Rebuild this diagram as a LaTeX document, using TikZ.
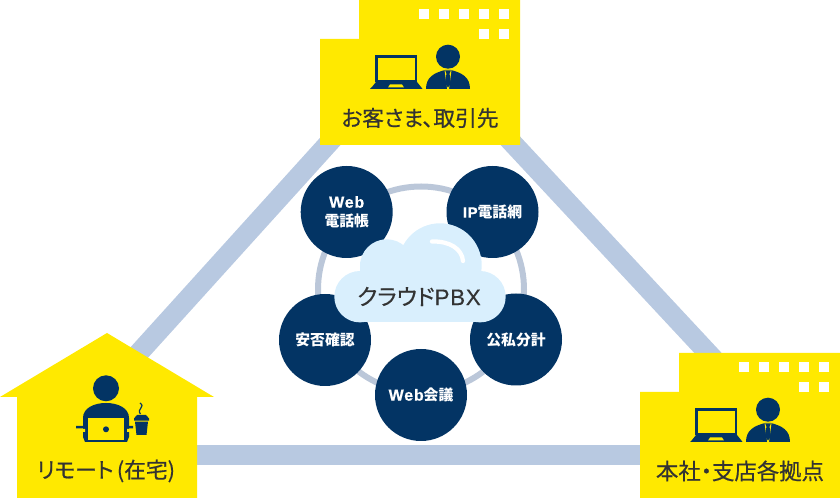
\documentclass[tikz,border=0pt]{standalone}
\usepackage{fontspec}
\setmainfont{Noto Sans CJK JP}[RawFeature=+palt]
\newfontfamily\medjp{Noto Sans CJK JP}[RawFeature=+palt,FakeBold=0.5]
\newfontfamily\latb{Liberation Sans}[FakeBold=0.5,LetterSpace=5]
\newfontfamily\latm{Liberation Sans}[FakeBold=0.3,LetterSpace=3]
\definecolor{ybg}{HTML}{FFE900}
\definecolor{navy}{HTML}{033464}
\definecolor{band}{HTML}{B8C9E1}
\definecolor{ringc}{HTML}{BBC7D9}
\definecolor{cloudc}{HTML}{D9EFFD}
\definecolor{txt}{HTML}{333333}
\tikzset{
 yshape/.style={fill=ybg,draw=none},
 link/.style={band,line width=15pt},
 svc/.style={circle,fill=navy,draw=none,minimum size=69pt,inner sep=0pt,text=white,align=center,font=\fontsize{11.1pt}{14.6pt}\selectfont\bfseries},
 place/.style={text=txt,inner sep=0pt,font=\fontsize{16.3pt}{18pt}\selectfont\medjp},
 win/.style={fill=white,draw=none},
 officeicon/.pic={
  % laptop
  \draw[navy,line width=2.2pt,fill=ybg] (56.5,56.5) rectangle (96,81);
  \fill[navy] (50,89) -- (52,87) -- (56,82) -- (97,82) -- (101,87) -- (102.5,89) -- cycle;
  \fill[ybg] (68,87.5) -- (70,84.5) -- (82,84.5) -- (84,87.5) -- cycle;
  % person
  \fill[navy] (128,56.7) circle[radius=12];
  \fill[navy] (106,89) .. controls (106,77) and (114,73) .. (125,70) -- (131,70) .. controls (142,73) and (150,77) .. (150,89) -- cycle;
  \fill[ybg] (124.5,70) -- (131.5,70) -- (129,89) -- (127.2,89) -- cycle;
  \fill[navy] (125.2,70.5) -- (130.8,70.5) -- (129.6,73.5) -- (130.6,84) -- (128,87.5) -- (125.4,84) -- (126.4,73.5) -- cycle;
  % windows
  \foreach \wx in {99,119,139,159,179} {\fill[win] (\wx,9) rectangle ++(10,10);}
  \foreach \wx in {159,179} {\fill[win] (\wx,29) rectangle ++(10,10);}
 },
}
\begin{document}
\begin{tikzpicture}[x=0.75pt,y=-0.75pt]
\useasboundingbox (0,0) rectangle (840,498);
\coordinate (ctop) at (419.3,43);
\coordinate (cleft) at (46.5,455);
\coordinate (cright) at (803,455);
% triangle links
\draw[link] (ctop) -- (cleft);
\draw[link] (ctop) -- (cright);
\draw[link] (cleft) -- (cright);
% ring
\node[circle,draw=ringc,line width=4.5pt,minimum size=154.5pt,inner sep=0pt] (ring) at (421,289.5) {};
% services
\node[svc] (web) at (346.7,212) {\raisebox{-1pt}{\fontsize{12pt}{14pt}\latb Web}\\[-0.5pt]\raisebox{-1pt}{電話帳}};
\node[svc] (ip) at (492.5,212) {{\latb IP}電話網};
\node[svc] (anpi) at (325,340) {安否確認};
\node[svc] (koshi) at (516,339.5) {公私分計};
\node[svc] (kaigi) at (421,395) {{\fontsize{12pt}{14pt}\latb Web}会議};
% cloud
\fill[cloudc] (360,296.7) circle[radius=25.7] (386.7,266) circle[radius=26.7] (440,265) circle[radius=41.7] (480,296.7) circle[radius=25.7];
\fill[cloudc] (360,262) rectangle (480,322.4);
\draw[white,line width=3.2pt,line cap=round] (432,241.5) .. controls (450,241) and (462,249) .. (463,261);
\node[text=txt,inner sep=0pt,font=\fontsize{16.8pt}{18pt}\selectfont\medjp] (pbx) at (419,296.5) {クラウド{\latm PBX}};
% top office
\fill[yshape] (359,0) -- (520,0) -- (520,145) -- (320,145) -- (320,39) -- (359,39) -- cycle;
\pic at (320,0) {officeicon};
\node[place] (okyaku) at (420,118) {お客さま、取引先};
% right office
\fill[yshape] (679,353) -- (840,353) -- (840,498) -- (640,498) -- (640,392) -- (679,392) -- cycle;
\pic at (640,353) {officeicon};
\node[place,font=\fontsize{16.8pt}{18pt}\selectfont\medjp] (honsha) at (740,471) {本社・支店各拠点};
% home
\fill[yshape] (107,333) -- (214,397) -- (197,397) -- (197,498) -- (17,498) -- (17,397) -- (0,397) -- cycle;
\fill[navy] (106,388.3) circle[radius=13];
\fill[navy] (85,442) -- (83,437) -- (83,428) -- (83,418) .. controls (83,408) and (94,403) .. (106,403) .. controls (118,403) and (129,408) .. (129,418) -- (129,437) -- (127,442) -- cycle;
\fill[navy] (76,425.8) rectangle (84,428.5) (128,425.8) rectangle (133,428.5);
\fill[ybg] (82,429) rectangle (85,432) (127,429) rectangle (130,432);
\draw[navy,line width=1.2pt,fill=ybg] (87.5,417) rectangle (125,440.5);
\fill[navy] (106,429.3) circle[radius=3];
\fill[navy] (134,420.7) -- (149,420.7) -- (149,418.5) -- (147.5,416.7) -- (146,415) -- (137,415) -- (135.5,416.7) -- (134,418.5) -- cycle;
\fill[navy] (135,421.7) -- (148,421.7) -- (146.5,435) -- (136.5,435) -- cycle;
\draw[navy,line width=0.9pt] (140,403) .. controls (146,407) and (136,409) .. (140.5,414);
\node[place] (remote) at (106,471) {リモート\kern2.5pt(在宅)};
\end{tikzpicture}
\end{document}
